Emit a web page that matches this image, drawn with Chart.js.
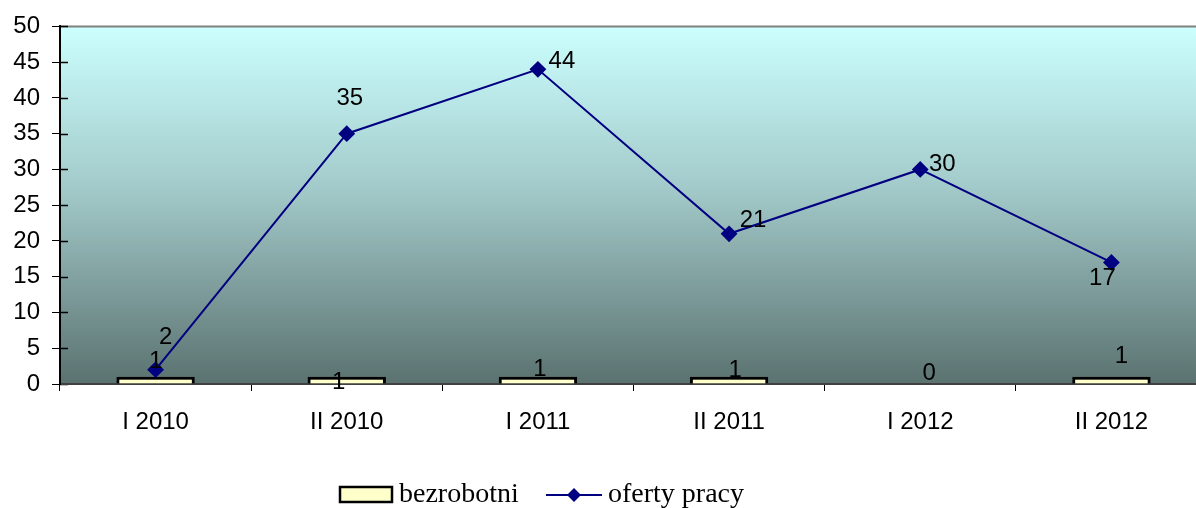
<!DOCTYPE html>
<html>
<head>
<meta charset="utf-8">
<script src="https://cdn.jsdelivr.net/npm/chart.js@4.4.1/dist/chart.umd.min.js"></script>
<style>
  html, body { margin: 0; padding: 0; background: #fff; overflow: hidden; }
  #wrap { width: 1216px; height: 508px; }
</style>
</head>
<body>
<div id="wrap"><canvas id="chart"></canvas></div>
<script>
const categories = ["I 2010", "II 2010", "I 2011", "II 2011", "I 2012", "II 2012"];
const bezrobotni = [1, 1, 1, 1, 0, 1];
const ofertyPracy = [2, 35, 44, 21, 30, 17];
const yTicks = [0, 5, 10, 15, 20, 25, 30, 35, 40, 45, 50];

// label offsets (px) copied from the picture's label placement
const barLabelOffsets = [[0, -15], [-8, 6], [2, -7], [6, -6], [9, -11], [10, -20]];
const lineLabelOffsets = [[10, -32], [3, -35], [24, -8], [24, -13], [22, -5], [-9, 16]];

const chartBackground = {
  id: "chartBackground",
  beforeDraw(chart) {
    const { ctx, chartArea: a } = chart;
    const g = ctx.createLinearGradient(0, a.top, 0, a.bottom);
    g.addColorStop(0, "#ccffff");
    g.addColorStop(0.45, "#a3caca");
    g.addColorStop(1, "#5a7270");
    ctx.save();
    ctx.fillStyle = g;
    ctx.fillRect(a.left, a.top, a.right - a.left, a.bottom - a.top);
    ctx.strokeStyle = "#808080";
    ctx.lineWidth = 2;
    ctx.beginPath();
    ctx.moveTo(a.left, a.top);
    ctx.lineTo(a.right, a.top);
    ctx.stroke();
    // y ticks cross the axis, so draw the inner half too
    const y = chart.scales.y;
    ctx.strokeStyle = "#000";
    ctx.lineWidth = 1.5;
    yTicks.forEach(v => {
      const py = Math.round(y.getPixelForValue(v)) + 0.5;
      ctx.beginPath();
      ctx.moveTo(a.left, py);
      ctx.lineTo(a.left + 8, py);
      ctx.stroke();
    });
    ctx.restore();
  }
};

const valueLabels = {
  id: "valueLabels",
  afterDatasetsDraw(chart) {
    const ctx = chart.ctx;
    ctx.save();
    ctx.font = "24px 'Liberation Sans', Arial, sans-serif";
    ctx.fillStyle = "#000";
    ctx.textAlign = "center";
    ctx.textBaseline = "middle";
    chart.getDatasetMeta(0).data.forEach((el, i) => {
      const o = barLabelOffsets[i];
      ctx.fillText(String(bezrobotni[i]), el.x + o[0], el.y + o[1]);
    });
    chart.getDatasetMeta(1).data.forEach((el, i) => {
      const o = lineLabelOffsets[i];
      ctx.fillText(String(ofertyPracy[i]), el.x + o[0], el.y + o[1]);
    });
    ctx.restore();
  }
};

const customLegend = {
  id: "customLegend",
  afterDraw(chart) {
    const ctx = chart.ctx;
    const y = 495;
    ctx.save();
    // bar swatch
    ctx.fillStyle = "#ffffcc";
    ctx.strokeStyle = "#000";
    ctx.lineWidth = 2.5;
    ctx.fillRect(340, y - 8, 52, 15);
    ctx.strokeRect(340, y - 8, 52, 15);
    ctx.font = "28px 'Liberation Serif', 'Times New Roman', serif";
    ctx.fillStyle = "#000";
    ctx.textBaseline = "middle";
    ctx.fillText("bezrobotni", 399, y);
    // line swatch
    ctx.strokeStyle = "#000080";
    ctx.lineWidth = 2;
    ctx.beginPath();
    ctx.moveTo(546, y);
    ctx.lineTo(602, y);
    ctx.stroke();
    ctx.fillStyle = "#000080";
    ctx.beginPath();
    ctx.moveTo(574, y - 7);
    ctx.lineTo(581, y);
    ctx.lineTo(574, y + 7);
    ctx.lineTo(567, y);
    ctx.closePath();
    ctx.fill();
    ctx.fillStyle = "#000";
    ctx.fillText("oferty pracy", 608, y);
    ctx.restore();
  }
};

new Chart(document.getElementById("chart"), {
  data: {
    labels: categories,
    datasets: [
      {
        type: "bar",
        label: "bezrobotni",
        data: bezrobotni,
        backgroundColor: "#ffffcc",
        borderColor: "#000000",
        borderWidth: 3,
        barPercentage: 0.41,
        categoryPercentage: 1,
        order: 2
      },
      {
        type: "line",
        label: "oferty pracy",
        data: ofertyPracy,
        borderColor: "#000080",
        borderWidth: 2,
        backgroundColor: "#000080",
        pointStyle: "rectRot",
        pointRadius: 7,
        pointHoverRadius: 7,
        tension: 0,
        order: 1
      }
    ]
  },
  options: {
    responsive: true,
    maintainAspectRatio: false,
    animation: false,
    layout: { padding: { top: 24, right: 0, left: 0, bottom: 0 } },
    plugins: {
      legend: { display: false },
      tooltip: { enabled: false }
    },
    scales: {
      x: {
        offset: true,
        grid: {
          offset: true,
          drawOnChartArea: false,
          drawTicks: true,
          tickLength: 7,
          color: "#000"
        },
        border: { color: "#404040", width: 2 },
        ticks: {
          color: "#000",
          font: { family: "'Liberation Sans', Arial, sans-serif", size: 24 },
          padding: 17
        },
        afterFit(scale) { scale.height = 124; }
      },
      y: {
        min: 0,
        max: 50,
        afterBuildTicks(scale) { scale.ticks = yTicks.map(v => ({ value: v })); },
        grid: {
          drawOnChartArea: false,
          drawTicks: true,
          tickLength: 8,
          color: "#000"
        },
        border: { color: "#000", width: 2 },
        ticks: {
          color: "#000",
          font: { family: "'Liberation Sans', Arial, sans-serif", size: 24 },
          padding: 12
        },
        afterFit(scale) { scale.width = 60; }
      }
    }
  },
  plugins: [chartBackground, valueLabels, customLegend]
});
</script>
</body>
</html>
